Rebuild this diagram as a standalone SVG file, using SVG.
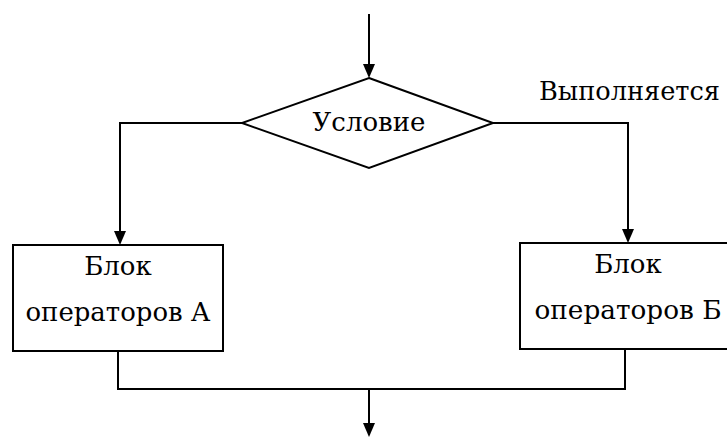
<svg xmlns="http://www.w3.org/2000/svg" width="727" height="439" viewBox="0 0 727 439">
<style>
.s{fill:#fff;stroke:#000;stroke-width:2}
.c{fill:none;stroke:#000;stroke-width:2}
.h{fill:#000;stroke:none}
.t{font-family:'DejaVu Serif','Liberation Serif',serif;font-size:26px;fill:#000}
.m{text-anchor:middle}
</style>
<g id="connectors">
<path class="c" d="M369,14 V66"/>
<polygon class="h" points="363,64 375,64 369,78"/>
<path class="c" d="M242,123 H120 V233"/>
<polygon class="h" points="114,231 126,231 120,245"/>
<path class="c" d="M493,123 H628 V231"/>
<polygon class="h" points="622,229 634,229 628,243"/>
<path class="c" d="M118,351 V389 H625 V349"/>
<path class="c" d="M369,389 V425"/>
<polygon class="h" points="363,423 375,423 369,437"/>
</g>
<g id="condition">
<polygon class="s" points="369,78 493,123 369,168 242,123"/>
<text class="t m" x="369" y="131">Условие</text>
</g>
<g id="label-yes">
<text class="t" x="539" y="100" textLength="181" lengthAdjust="spacingAndGlyphs">Выполняется</text>
</g>
<g id="blockA">
<rect class="s" x="13" y="245" width="210" height="106"/>
<text class="t m" x="118" y="275">Блок</text>
<text class="t m" x="118" y="321" textLength="185" lengthAdjust="spacingAndGlyphs">операторов А</text>
</g>
<g id="blockB">
<rect class="s" x="520" y="243" width="210" height="106"/>
<text class="t m" x="628" y="273">Блок</text>
<text class="t m" x="628" y="319" textLength="187" lengthAdjust="spacingAndGlyphs">операторов Б</text>
</g>
</svg>
